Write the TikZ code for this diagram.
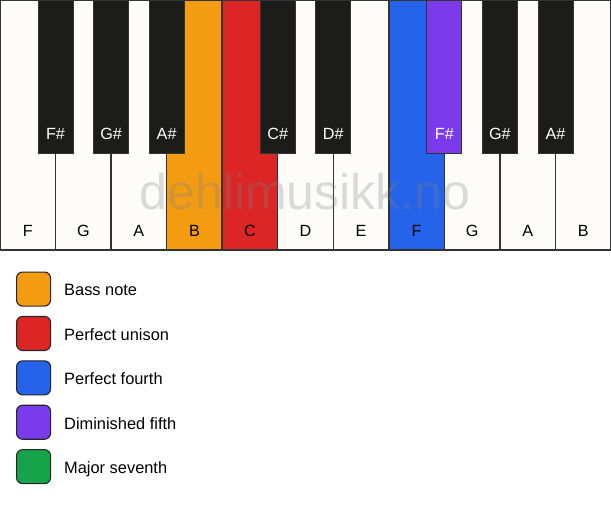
\documentclass[tikz,border=0pt]{standalone}
\usepackage{fontspec}
\setmainfont{Liberation Sans}
\definecolor{keywhite}{HTML}{FDFCF8}
\definecolor{keyblack}{HTML}{1C1C1A}
\definecolor{cbass}{HTML}{F39C12}
\definecolor{cuni}{HTML}{DC2626}
\definecolor{cfourth}{HTML}{2563EB}
\definecolor{cdim}{HTML}{7C3AED}
\definecolor{cmaj}{HTML}{16A34A}
\definecolor{keyline}{HTML}{333333}
\tikzset{
  whitekey/.style={draw=keyline, line width=1.4pt, fill=keywhite, anchor=north west,
    minimum width=55.545pt, minimum height=250pt, inner sep=0pt, outer sep=0pt},
  blackkey/.style={draw=keyline, line width=0.8pt, fill=keyblack, anchor=north,
    minimum width=35pt, minimum height=153pt, inner sep=0pt, outer sep=0pt},
  wlabel/.style={font=\fontsize{16.2}{19}\selectfont, text=black, inner sep=0pt, anchor=base},
  blabel/.style={font=\fontsize{16.2}{19}\selectfont, text=white, inner sep=0pt, anchor=base},
  legbox/.style={draw=black!85, line width=1.1pt, rounded corners=6pt, anchor=north west,
    minimum width=34pt, minimum height=34pt, inner sep=0pt},
  legtext/.style={font=\fontsize{16.4}{19}\selectfont, anchor=base west, inner sep=0pt},
  watermark/.style={font=\fontsize{50}{56}\selectfont, text=gray, opacity=0.28, inner sep=0pt}
}
\begin{document}
\begin{tikzpicture}[x=1pt,y=-1pt]
\useasboundingbox (0,0) rectangle (611,506);
\fill[white] (0,0) rectangle (611,506);
% white keys
\foreach \i/\n/\c in {0/F/keywhite,1/G/keywhite,2/A/keywhite,3/B/cbass,4/C/cuni,5/D/keywhite,6/E/keywhite,7/F/cfourth,8/G/keywhite,9/A/keywhite,10/B/keywhite}{
  \node[whitekey, fill=\c] (w\i) at ({\i*55.545},0) {};
  \node[wlabel] (wl\i) at ({\i*55.545+27.77},236.5) {\n};
}
% black keys
\foreach \k/\n/\c in {1/F\#/keyblack,2/G\#/keyblack,3/A\#/keyblack,5/C\#/keyblack,6/D\#/keyblack,8/F\#/cdim,9/G\#/keyblack,10/A\#/keyblack}{
  \node[blackkey, fill=\c] (b\k) at ({\k*55.545},0) {};
  \node[blabel] (bl\k) at ({\k*55.545},139) {\n};
}
% watermark
\node[watermark] (wm) at (305,192) {dehlimusikk.no};
% legend
\foreach \j/\c/\t in {0/cbass/Bass note,1/cuni/Perfect unison,2/cfourth/Perfect fourth,3/cdim/Diminished fifth,4/cmaj/Major seventh}{
  \node[legbox, fill=\c] (lb\j) at (16,{271.5+\j*44.4}) {};
  \node[legtext] (lt\j) at (64,{295.8+\j*44.4}) {\t};
}
\end{tikzpicture}
\end{document}
